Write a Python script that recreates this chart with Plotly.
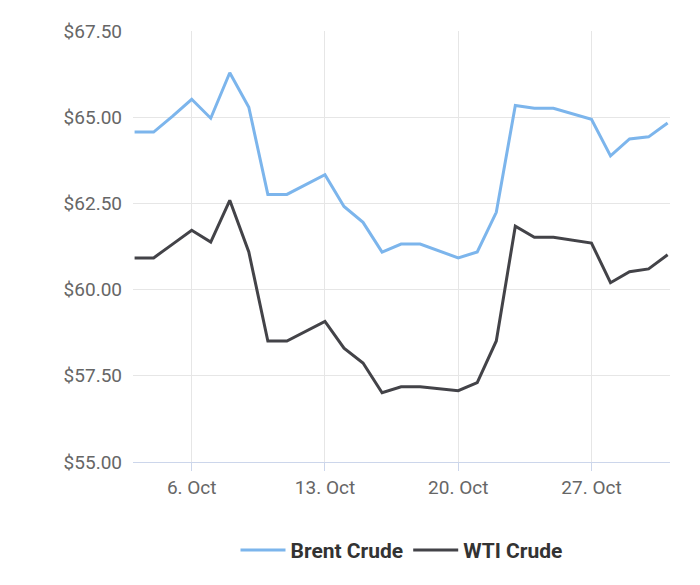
import plotly.graph_objects as go
import pandas as pd

dates = pd.date_range("2023-10-03", "2023-10-31", freq="D")
brent = [64.57,64.57,65.03,65.52,64.97,66.29,65.29,62.76,62.76,63.05,63.33,62.41,61.95,61.09,
         61.32,61.32,61.12,60.92,61.09,62.24,65.34,65.26,65.26,65.11,64.94,63.88,64.37,64.43,64.83]
wti = [60.92,60.92,61.32,61.72,61.38,62.59,61.09,58.51,58.51,58.79,59.08,58.30,57.87,57.01,
       57.18,57.18,57.13,57.07,57.30,58.51,61.84,61.52,61.52,61.44,61.35,60.20,60.52,60.60,61.01]
ytickvals = [55, 57.5, 60, 62.5, 65, 67.5]
yticktext = ["$55.00", "$57.50", "$60.00", "$62.50", "$65.00", "$67.50"]
xtickvals = ["2023-10-06", "2023-10-13", "2023-10-20", "2023-10-27"]
xticktext = ["6. Oct", "13. Oct", "20. Oct", "27. Oct"]

fig = go.Figure()
fig.add_trace(go.Scatter(x=dates, y=brent, mode="lines", name="Brent Crude",
                         line=dict(color="#7cb5ec", width=3)))
fig.add_trace(go.Scatter(x=dates, y=wti, mode="lines", name="WTI Crude",
                         line=dict(color="#434348", width=3)))
fig.update_layout(
    width=700, height=585, paper_bgcolor="white", plot_bgcolor="white",
    margin=dict(l=125, r=38, t=19, b=131),
    font=dict(family="Roboto", size=19, color="#666666"),
    showlegend=True,
    legend=dict(orientation="h", x=0.5, xanchor="center", y=-0.205, yanchor="middle",
                font=dict(size=21, color="#333333", family="Roboto", weight="bold"),
                itemwidth=45, tracegroupgap=40),
    xaxis=dict(range=["2023-10-02 22:00", "2023-10-31 03:00"], tickvals=xtickvals, ticktext=xticktext,
               showgrid=True, gridcolor="#e6e6e6", showline=True, linecolor="#ccd6eb", linewidth=1,
               ticks="outside", tickcolor="#ccd6eb", ticklen=8, zeroline=False),
    yaxis=dict(range=[55, 67.5], tickvals=ytickvals, ticktext=yticktext,
               showgrid=True, gridcolor="#e6e6e6", zeroline=False, ticklabelstandoff=10),
)
fig.write_html("out.html")
